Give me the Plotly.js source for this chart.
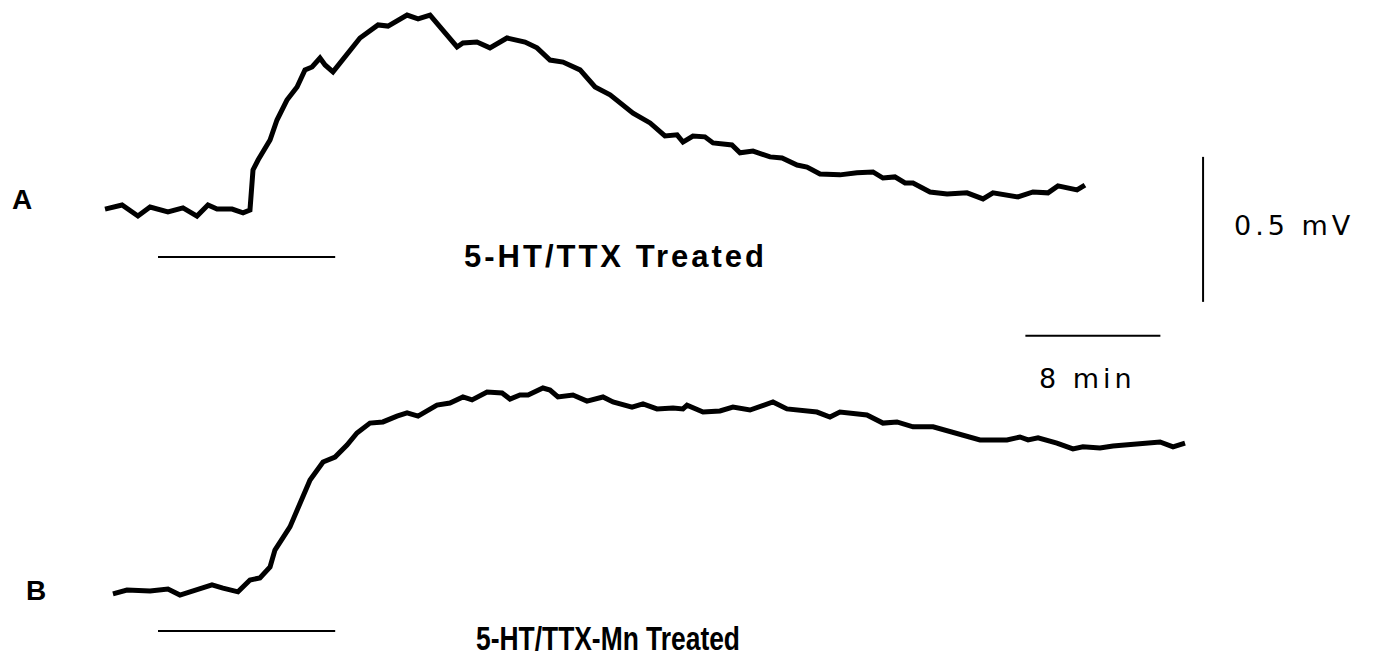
<!DOCTYPE html>
<html>
<head>
<meta charset="utf-8">
<script src="https://cdn.plot.ly/plotly-3.0.1.min.js"></script>
<style>
  html, body { margin: 0; padding: 0; background: #fff; }
  #chart { width: 1373px; height: 660px; }
</style>
</head>
<body>
<div id="chart"></div>
<script>
// Trace A: 5-HT/TTX treated — time (min, stimulus onset = 0) and membrane potential change (mV)
const timeA = [-3.14,-2.13,-1.19,-0.47,0.59,1.48,2.31,2.96,3.50,4.39,5.04,5.45,5.63,5.93,6.64,7.05,7.64,8.24,8.71,9.13,9.60,9.90,10.37,10.96,11.97,13.04,13.63,14.76,15.41,16.12,17.01,17.72,18.07,18.90,19.67,20.68,21.75,22.46,23.23,24.00,25.01,25.90,26.79,27.38,28.15,29.16,30.04,30.76,31.11,31.70,32.41,32.89,34.01,34.49,35.26,36.27,36.98,37.87,38.46,39.23,40.41,41.42,42.37,42.96,43.67,44.27,44.74,45.75,46.76,47.94,48.89,49.48,50.31,50.96,51.85,52.74,53.33,54.46,54.93];
const mvA = [0.003,0.017,-0.021,0.010,-0.007,0.007,-0.021,0.017,0.003,0.003,-0.010,0.000,0.138,0.172,0.241,0.310,0.379,0.424,0.483,0.493,0.524,0.500,0.476,0.517,0.593,0.638,0.634,0.672,0.659,0.672,0.614,0.562,0.576,0.579,0.559,0.593,0.579,0.559,0.517,0.510,0.483,0.424,0.397,0.369,0.334,0.300,0.255,0.259,0.234,0.255,0.252,0.231,0.224,0.197,0.203,0.183,0.179,0.155,0.148,0.124,0.121,0.128,0.131,0.110,0.114,0.093,0.093,0.062,0.055,0.059,0.038,0.059,0.052,0.045,0.062,0.059,0.083,0.069,0.086];

// Trace B: 5-HT/TTX-Mn treated
const timeB = [-2.67,-1.84,-0.47,0.59,1.30,2.49,3.20,3.85,4.74,5.45,6.04,6.64,6.93,7.82,8.41,9.01,9.78,10.49,11.20,11.79,12.56,13.33,14.16,14.76,15.41,16.53,17.30,18.07,18.61,19.50,20.39,20.86,21.45,21.93,22.81,23.23,23.70,24.59,25.42,26.37,26.96,28.09,28.74,29.57,30.52,31.11,31.35,32.30,33.30,34.07,35.08,35.85,36.44,37.27,38.04,39.05,39.82,40.41,42.01,42.96,43.79,44.74,45.93,47.11,48.30,48.71,50.31,51.08,51.56,52.15,53.27,54.22,54.81,55.82,56.59,57.78,59.38,60.15,60.86];
const mvB = [-0.010,0.003,0.000,0.007,-0.014,0.007,0.021,0.010,-0.003,0.038,0.045,0.083,0.141,0.221,0.303,0.383,0.445,0.462,0.503,0.545,0.579,0.583,0.603,0.614,0.603,0.641,0.648,0.669,0.659,0.686,0.683,0.662,0.676,0.676,0.700,0.693,0.669,0.676,0.655,0.669,0.652,0.634,0.645,0.628,0.631,0.628,0.641,0.617,0.621,0.634,0.624,0.641,0.652,0.628,0.624,0.617,0.600,0.617,0.607,0.579,0.583,0.566,0.566,0.548,0.531,0.521,0.521,0.531,0.521,0.528,0.510,0.490,0.497,0.493,0.500,0.507,0.514,0.497,0.510];

// Application period (min) and scale bar sizes
const stimulus = [0, 10.5];
const scaleTime = 8;      // min
const scaleVolt = 0.5;    // mV
const panelLabels = ["A", "B"];
const treatments = ["5-HT/TTX Treated", "5-HT/TTX-Mn Treated"];

const traces = [
  {x: timeA, y: mvA, xaxis: 'x', yaxis: 'y', mode: 'lines', line: {color: '#000', width: 5}, hoverinfo: 'skip'},
  {x: timeB, y: mvB, xaxis: 'x', yaxis: 'y2', mode: 'lines', line: {color: '#000', width: 5}, hoverinfo: 'skip'}
];

const thin = {color: '#000', width: 2};
const shapes = [
  {type: 'line', xref: 'x', yref: 'y', x0: stimulus[0], x1: stimulus[1], y0: -0.162, y1: -0.162, line: thin},
  {type: 'line', xref: 'x', yref: 'y2', x0: stimulus[0], x1: stimulus[1], y0: -0.138, y1: -0.138, line: thin},
  // vertical scale bar (0.5 mV)
  {type: 'line', xref: 'x', yref: 'y', x0: 61.93, x1: 61.93, y0: 0.183, y1: 0.183 - scaleVolt, line: thin},
  // horizontal scale bar (8 min)
  {type: 'line', xref: 'x', yref: 'y', x0: 51.4, x1: 51.4 + scaleTime, y0: -0.434, y1: -0.434, line: thin}
];

const lab = (text, x, y, size, family, bold) => ({
  text: bold ? '<b>' + text + '</b>' : text,
  xref: 'paper', yref: 'paper', x: x, y: y, xanchor: 'center', yanchor: 'middle',
  showarrow: false, font: {size: size, family: family, color: '#000'}
});

const annotations = [
  lab(panelLabels[0], 0.016, 0.697, 28, 'Liberation Sans', true),
  lab(panelLabels[1], 0.026, 0.106, 28, 'Liberation Sans', true),
  lab(treatments[0], 0.448, 0.611, 31, 'Liberation Sans', true),
  lab(treatments[1], 0.443, 0.033, 33, 'Liberation Sans', true),
  lab(scaleVolt + ' mV', 0.943, 0.658, 27, 'DejaVu Sans', false),
  lab(scaleTime + ' min', 0.792, 0.427, 27, 'DejaVu Sans', false)
];

const layout = {
  width: 1373, height: 660,
  margin: {l: 0, r: 0, t: 0, b: 0, pad: 0},
  paper_bgcolor: '#fff', plot_bgcolor: '#fff',
  showlegend: false,
  xaxis: {range: [-9.363, 72.0], visible: false, fixedrange: true},
  yaxis: {range: [-1.552, 0.724], visible: false, fixedrange: true},
  yaxis2: {range: [-0.238, 2.038], visible: false, overlaying: 'y', fixedrange: true},
  shapes: shapes,
  annotations: annotations
};

Plotly.newPlot('chart', traces, layout, {staticPlot: true, displayModeBar: false}).then(() => {
  const style = {};
  style[treatments[0]] = {ls: '3px', sx: 1};
  style[treatments[1]] = {ls: '0px', sx: 0.8};
  style[scaleVolt + ' mV'] = {ls: '4px', sx: 1};
  style[scaleTime + ' min'] = {ls: '4px', sx: 1};
  document.querySelectorAll('.annotation-text').forEach(t => {
    const s = style[t.textContent];
    if (!s) return;
    t.style.letterSpacing = s.ls;
    if (s.sx !== 1) {
      t.style.transformBox = 'fill-box';
      t.style.transformOrigin = 'center';
      t.style.transform = 'scaleX(' + s.sx + ')';
    }
  });
});
</script>
</body>
</html>
